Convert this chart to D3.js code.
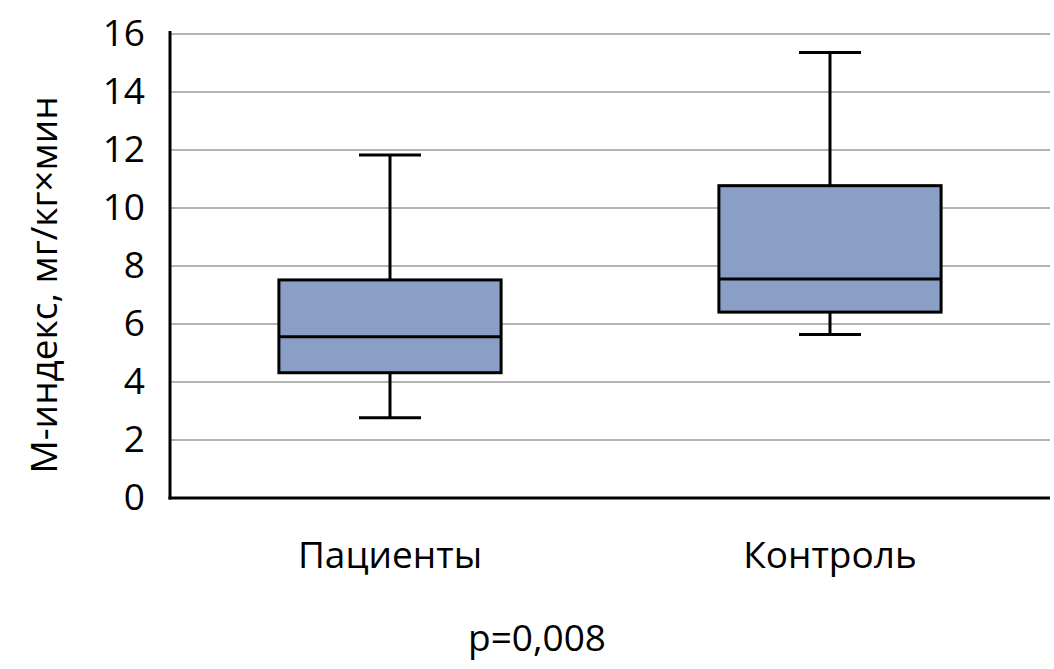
<!DOCTYPE html>
<html>
<head>
<meta charset="utf-8">
<script src="https://cdn.jsdelivr.net/npm/d3@7"></script>
<style>
  html, body { margin: 0; padding: 0; background: #fff; }
  svg { display: block; }
  text { font-family: "Open Sans", "Noto Sans", sans-serif; fill: #000; }
</style>
</head>
<body>
<svg id="chart" width="1054" height="669"></svg>
<script>
// ---- data ----
const categories = ["Пациенты", "Контроль"];
const whiskerLow = [2.77, 5.64];
const q1 = [4.32, 6.41];
const median = [5.56, 7.55];
const q3 = [7.52, 10.77];
const whiskerHigh = [11.83, 15.36];
const yTicks = [0, 2, 4, 6, 8, 10, 12, 14, 16];
const yTitle = "М-индекс, мг/кг×мин";
const note = "p=0,008";

const rows = categories.map((c, i) => ({
  cat: c, lo: whiskerLow[i], q1: q1[i], med: median[i], q3: q3[i], hi: whiskerHigh[i]
}));

// ---- layout ----
const svg = d3.select("#chart");
const plotLeft = 170, plotRight = 1050, plotTop = 34, plotBottom = 498;

const x = d3.scaleBand().domain(categories).range([plotLeft, plotRight]).padding(0);
const y = d3.scaleLinear().domain([0, 16]).range([plotBottom, plotTop]);
const boxW = x.bandwidth() * 0.505;
const capW = 62;

// gridlines
svg.append("g")
  .selectAll("line")
  .data(yTicks.filter(d => d > 0))
  .join("line")
  .attr("x1", plotLeft).attr("x2", plotRight)
  .attr("y1", d => y(d)).attr("y2", d => y(d))
  .attr("stroke", "#b4b4b4").attr("stroke-width", 2);

// y tick labels via axis
const yAxis = svg.append("g")
  .attr("transform", `translate(${plotLeft},0)`)
  .call(d3.axisLeft(y).tickValues(yTicks).tickSize(0).tickPadding(25).tickFormat(d3.format("d")));
yAxis.select(".domain").remove();
yAxis.selectAll("text")
  .style("font-family", "'Open Sans', sans-serif")
  .attr("font-size", 37).attr("fill", "#000");

// boxes
const g = svg.append("g");
rows.forEach(r => {
  const cx = x(r.cat) + x.bandwidth() / 2;
  g.append("line").attr("x1", cx).attr("x2", cx).attr("y1", y(r.hi)).attr("y2", y(r.q3))
    .attr("stroke", "#000").attr("stroke-width", 3);
  g.append("line").attr("x1", cx).attr("x2", cx).attr("y1", y(r.q1)).attr("y2", y(r.lo))
    .attr("stroke", "#000").attr("stroke-width", 3);
  [r.hi, r.lo].forEach(v => {
    g.append("line").attr("x1", cx - capW / 2).attr("x2", cx + capW / 2)
      .attr("y1", y(v)).attr("y2", y(v))
      .attr("stroke", "#000").attr("stroke-width", 3);
  });
  g.append("rect")
    .attr("x", cx - boxW / 2).attr("width", boxW)
    .attr("y", y(r.q3)).attr("height", y(r.q1) - y(r.q3))
    .attr("fill", "#8a9fc6").attr("stroke", "#000").attr("stroke-width", 3);
  g.append("line").attr("x1", cx - boxW / 2).attr("x2", cx + boxW / 2)
    .attr("y1", y(r.med)).attr("y2", y(r.med))
    .attr("stroke", "#000").attr("stroke-width", 3);
});

// axis lines
svg.append("line").attr("x1", plotLeft).attr("x2", plotLeft).attr("y1", plotTop - 3).attr("y2", plotBottom + 1.5)
  .attr("stroke", "#000").attr("stroke-width", 3);
svg.append("line").attr("x1", plotLeft - 1.5).attr("x2", plotRight).attr("y1", plotBottom).attr("y2", plotBottom)
  .attr("stroke", "#000").attr("stroke-width", 3);

// category labels
svg.append("g").selectAll("text")
  .data(categories)
  .join("text")
  .attr("x", d => x(d) + x.bandwidth() / 2)
  .attr("y", 568)
  .attr("text-anchor", "middle")
  .attr("font-size", 37)
  .text(d => d);

// y title
svg.append("text")
  .attr("transform", "translate(57,285) rotate(-90)")
  .attr("text-anchor", "middle")
  .attr("font-size", 37)
  .text(yTitle);

// p-value note
svg.append("text")
  .attr("x", 537).attr("y", 651)
  .attr("text-anchor", "middle")
  .attr("font-size", 37)
  .text(note);
</script>
</body>
</html>
